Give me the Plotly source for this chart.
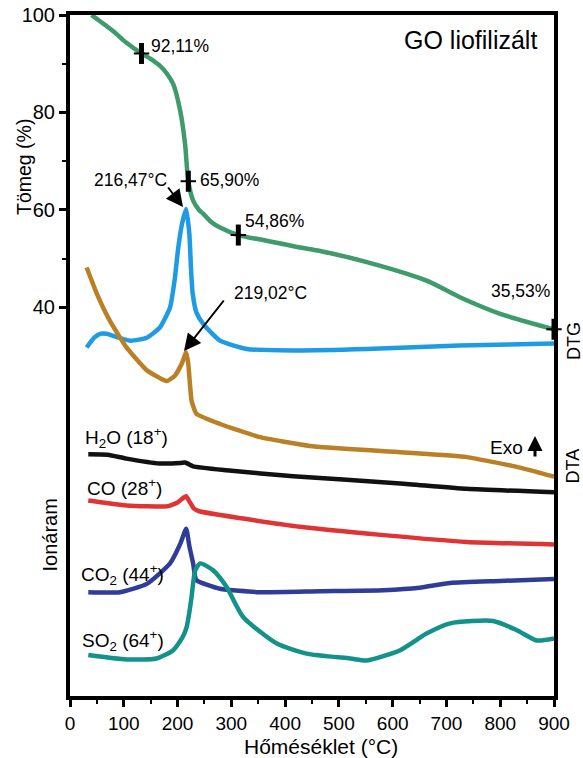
import plotly.graph_objects as go

# ---------------- data ----------------
# TG curve: mass (%)
tg_T = [40, 80, 105, 133, 150, 167, 180, 192, 205, 214, 220, 229, 240, 248, 262, 279, 313, 366, 428, 465, 552, 663, 725, 800, 900]
tg_v = [100, 96.7, 94.3, 92.11, 91.0, 89.6, 88.0, 85.8, 80.3, 73.5, 65.9, 61.9, 60.0, 59.2, 57.6, 56.4, 54.86, 53.7, 52.3, 51.6, 49.3, 45.5, 42.1, 38.7, 35.53]

# DTG (display units)
dtg_T = [31, 45, 56, 68, 80, 112, 143, 167, 186, 195, 201, 208, 216, 222, 225, 228, 235, 248, 279, 329, 415, 552, 725, 900]
dtg_v = [31.8, 33.8, 34.6, 34.6, 34.2, 33.2, 33.8, 35.9, 40.0, 46.0, 52.0, 57.0, 60.2, 55.0, 48.0, 43.0, 39.0, 36.6, 33.2, 31.5, 31.2, 31.5, 32.2, 32.6]

# DTA (display units)
dta_T = [31, 50, 74, 105, 143, 180, 195, 208, 216, 220, 226, 235, 279, 353, 446, 614, 738, 831, 900]
dta_v = [48.2, 42.8, 37.3, 31.8, 27.1, 24.9, 26.0, 28.5, 30.8, 28.4, 20.9, 18.2, 16.1, 13.4, 11.6, 10.3, 9.3, 7.3, 5.3]

# MS ion currents (display units)
h2o_T = [34, 70, 105, 167, 205, 214, 222, 229, 291, 415, 614, 738, 900]
h2o_v = [9.9, 9.8, 9.0, 8.0, 8.1, 8.2, 7.8, 7.4, 6.6, 5.4, 3.9, 2.8, 2.1]

co_T = [34, 105, 180, 200, 210, 216, 222, 230, 240, 322, 428, 583, 738, 900]
co_v = [0.4, -0.6, -0.8, 0.0, 0.9, 1.3, 0.2, -1.2, -1.8, -3.3, -5.0, -6.7, -8.1, -8.6]

co2_T = [34, 93, 143, 186, 205, 216, 222, 229, 235, 279, 353, 465, 583, 650, 707, 800, 900]
co2_v = [-18.4, -18.4, -16.7, -12.5, -8.5, -5.4, -9.0, -12.5, -15.9, -17.7, -18.4, -18.2, -18.0, -17.5, -16.5, -16.1, -15.7]

so2_T = [34, 105, 161, 192, 210, 217, 222, 226, 233, 242, 266, 291, 322, 384, 440, 521, 552, 614, 663, 707, 787, 831, 868, 900]
so2_v = [-31.3, -32.2, -32.0, -30.3, -27.5, -25.5, -22.5, -19.4, -13.9, -12.5, -13.9, -17.3, -23.5, -28.9, -31.0, -32.0, -32.4, -30.3, -26.9, -24.8, -24.3, -26.2, -28.3, -27.9]

# marked points on TG
mark_T = [133, 220, 313, 900]
mark_v = [92.11, 65.90, 54.86, 35.53]
mark_labels = ["92,11%", "65,90%", "54,86%", "35,53%"]

x_ticks = list(range(0, 901, 100))
y_ticks = [40, 60, 80, 100]

# ---------------- figure ----------------
W, H = 583, 758
L, R, T_, B = 70, 29, 15, 62
XR = [0, 900]
YR = [-39.7, 100]

def PX(px):
    return (px - L) / (W - L - R)

def PY(py):
    return 1 - (py - T_) / (H - T_ - B)

FONT = "Liberation Sans, Arial, sans-serif"
fig = go.Figure()

def curve(xs, ys, color, smooth=0.6):
    fig.add_trace(go.Scatter(x=xs, y=ys, mode="lines",
                             line=dict(color=color, width=4.5, shape="spline", smoothing=smooth),
                             showlegend=False, hoverinfo="skip"))

curve(tg_T, tg_v, "#3f9a6c", 0.8)
curve(dtg_T, dtg_v, "#1e9be2", 0.5)
curve(dta_T, dta_v, "#b98025", 0.4)
curve(h2o_T, h2o_v, "#111111", 0.5)
curve(co_T, co_v, "#e03434", 0.5)
curve(co2_T, co2_v, "#2f3d96", 0.5)
curve(so2_T, so2_v, "#12928a", 0.6)

# markers on TG
fig.add_trace(go.Scatter(x=mark_T, y=mark_v, mode="markers",
                         marker=dict(symbol="line-ns", size=15, line=dict(color="black", width=5)),
                         showlegend=False, hoverinfo="skip", cliponaxis=False))
fig.add_trace(go.Scatter(x=mark_T, y=mark_v, mode="markers",
                         marker=dict(symbol="line-ew", size=11, line=dict(color="black", width=2)),
                         showlegend=False, hoverinfo="skip", cliponaxis=False))

ann = []
def txt(text, px, py, size=17, angle=0):
    ann.append(dict(text=text, x=PX(px), y=PY(py), xref="paper", yref="paper", showarrow=False,
                    font=dict(size=size, color="black", family=FONT), textangle=angle,
                    xanchor="center", yanchor="middle"))

def arrow(x0, y0, x1, y1, width=2, size=1.1):
    ann.append(dict(text="", x=PX(x1), y=PY(y1), ax=x0 - x1, ay=y0 - y1,
                    xref="paper", yref="paper", axref="pixel", ayref="pixel",
                    showarrow=True, arrowhead=2, arrowsize=size,
                    arrowwidth=width, arrowcolor="black"))

txt("GO liofilizált", 470, 40, size=25)
label_pos = [(180, 45.5), (229.5, 179.5), (274, 221), (520, 291)]
for lab, (px, py) in zip(mark_labels, label_pos):
    txt(lab, px, py, size=17.5)
txt("216,47°C", 130, 180, size=17.5)
arrow(167, 186, 183, 207, width=2, size=1.7)
txt("219,02°C", 270, 293, size=17.5)
arrow(225, 299, 184, 351, width=2, size=1.7)
txt("Exo", 506, 447, size=19)
arrow(535, 458, 535, 436, width=3, size=1.0)
txt("H<sub>2</sub>O (18<sup>+</sup>)", 126, 437, size=19)
txt("CO (28<sup>+</sup>)", 124, 487, size=19)
txt("CO<sub>2</sub> (44<sup>+</sup>)", 122, 574, size=19)
txt("SO<sub>2</sub> (64<sup>+</sup>)", 123, 640, size=19)
txt("Tömeg (%)", 24, 167, size=19.5, angle=-90)
txt("Ionáram", 49.5, 535, size=20, angle=-90)
txt("DTG", 574, 341, size=18, angle=-90)
txt("DTA", 572.5, 466, size=18, angle=-90)
txt("Hőméséklet (°C)", 321, 747, size=21)

fig.update_layout(
    width=W, height=H,
    margin=dict(l=L, r=R, t=T_, b=B, pad=0),
    paper_bgcolor="white", plot_bgcolor="white",
    font=dict(family=FONT, color="black", size=19),
    annotations=ann,
    showlegend=False,
)
fig.update_xaxes(range=XR, tickvals=x_ticks, ticktext=[str(v) for v in x_ticks],
                 automargin=False,
                 showgrid=False, zeroline=False, showline=True, linewidth=4, linecolor="black",
                 mirror=True, ticks="outside", ticklen=7, tickwidth=3, tickcolor="black",
                 tickfont=dict(size=19),
                 minor=dict(tickvals=[v + 50 for v in x_ticks[:-1]], ticks="outside",
                            ticklen=4, tickwidth=2, tickcolor="black"))
fig.update_yaxes(range=YR, tickvals=y_ticks, ticktext=[str(v) for v in y_ticks],
                 automargin=False,
                 showgrid=False, zeroline=False, showline=True, linewidth=4, linecolor="black",
                 mirror=True, ticks="outside", ticklen=7, tickwidth=3, tickcolor="black",
                 tickfont=dict(size=20),
                 minor=dict(tickvals=[50, 70, 90], ticks="outside", ticklen=4, tickwidth=2,
                            tickcolor="black"))

fig.write_html("out.html")
